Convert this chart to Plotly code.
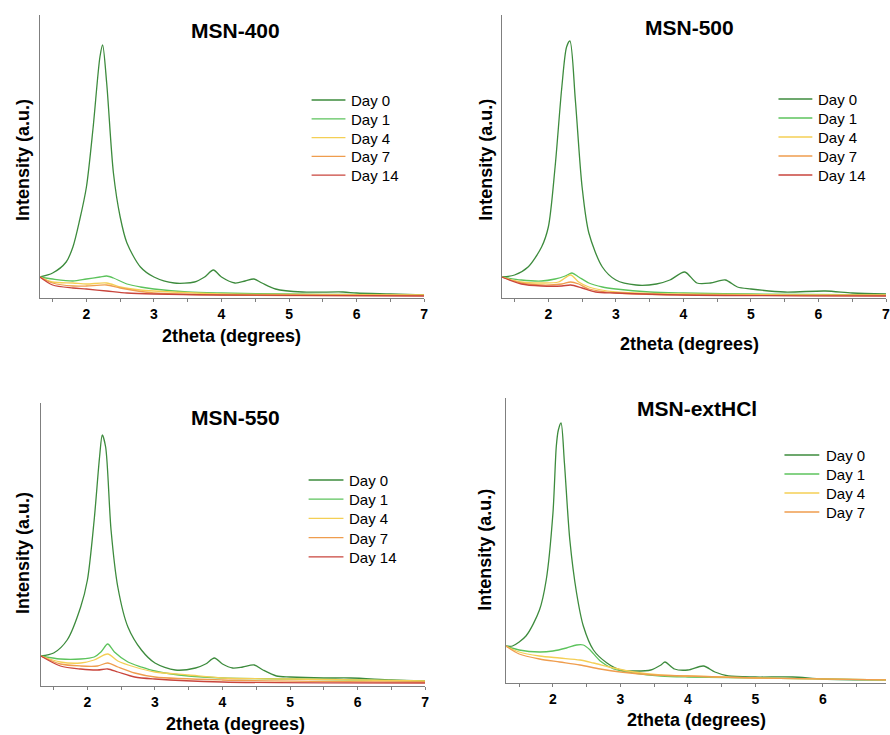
import plotly.graph_objects as go

W, H = 890, 735

# ---- MSN-400 ----
x400_d0 = [1.31, 1.5, 1.7, 1.8, 1.9, 2.0, 2.1, 2.2, 2.24, 2.3, 2.4, 2.5, 2.6, 2.8, 3.0, 3.3, 3.6, 3.75, 3.88, 4.0, 4.2, 4.35, 4.48, 4.6, 4.8, 5.2, 5.8, 6.0, 6.5, 7.0]
y400_d0 = [21, 25, 36, 51, 78, 111, 171, 241, 253, 215, 125, 81, 55, 31, 21, 15, 16, 21, 28, 21, 15, 17, 19, 15, 9, 6, 6, 5, 4, 3]
x400_d1 = [1.31, 1.5, 1.8, 2.0, 2.2, 2.3, 2.4, 2.6, 2.8, 3.0, 3.5, 4.0, 5.0, 6.0, 7.0]
y400_d1 = [21, 19, 17, 19, 21, 22, 20, 14, 11, 9, 6, 5, 4, 3.5, 3]
x400_d4 = [1.31, 1.5, 1.8, 2.0, 2.3, 2.5, 2.8, 3.0, 4.0, 5.0, 7.0]
y400_d4 = [21, 16, 15, 14, 15, 11, 8, 7, 4, 3.5, 3]
x400_d7 = [1.31, 1.5, 1.8, 2.0, 2.3, 2.5, 3.0, 4.0, 7.0]
y400_d7 = [21, 15, 12, 12, 13, 10, 5, 3, 2.5]
x400_d14 = [1.31, 1.5, 1.8, 2.0, 2.3, 2.6, 3.0, 4.0, 7.0]
y400_d14 = [21, 13, 10, 9, 7, 5, 4, 3, 2]

# ---- MSN-500 ----
x500_d0 = [1.31, 1.5, 1.7, 1.9, 2.0, 2.1, 2.2, 2.27, 2.32, 2.4, 2.5, 2.6, 2.8, 3.0, 3.3, 3.6, 3.8, 4.02, 4.2, 4.4, 4.62, 4.8, 5.0, 5.5, 6.1, 6.5, 7.0]
y500_d0 = [21, 23, 31, 51, 71, 131, 211, 251, 257, 198, 111, 65, 31, 18, 13, 14, 18, 26, 15, 15, 18, 11, 9, 6, 7, 5, 4]
x500_d1 = [1.31, 1.6, 1.9, 2.1, 2.25, 2.35, 2.45, 2.6, 2.8, 3.0, 3.5, 4.0, 5.0, 7.0]
y500_d1 = [21, 18, 17, 19, 22, 25, 21, 15, 11, 9, 6, 5, 4, 3]
x500_d4 = [1.31, 1.6, 1.9, 2.15, 2.33, 2.45, 2.6, 3.0, 4.0, 7.0]
y500_d4 = [21, 16, 15, 16, 23, 16, 11, 6, 4, 3]
x500_d7 = [1.31, 1.6, 1.9, 2.2, 2.33, 2.45, 2.6, 3.0, 4.0, 7.0]
y500_d7 = [21, 15, 13, 14, 16, 14, 9, 5, 3, 2.5]
x500_d14 = [1.31, 1.6, 1.9, 2.2, 2.33, 2.5, 2.7, 3.0, 4.0, 7.0]
y500_d14 = [21, 14, 12, 12, 13, 10, 6, 5, 3, 2]

# ---- MSN-550 ----
x550_d0 = [1.31, 1.5, 1.7, 1.9, 2.0, 2.1, 2.18, 2.22, 2.27, 2.35, 2.45, 2.6, 2.8, 3.0, 3.3, 3.6, 3.75, 3.88, 4.0, 4.15, 4.3, 4.47, 4.6, 4.8, 5.0, 5.5, 5.9, 6.5, 7.0]
y550_d0 = [30, 33, 46, 79, 106, 166, 229, 251, 239, 156, 99, 59, 36, 23, 16, 18, 22, 28, 22, 18, 19, 21, 16, 10, 9, 8, 8, 6, 5]
x550_d1 = [1.31, 1.6, 1.9, 2.1, 2.2, 2.3, 2.4, 2.6, 2.8, 3.0, 3.5, 4.0, 5.0, 6.0, 7.0]
y550_d1 = [30, 27, 27, 29, 34, 42, 34, 24, 19, 15, 10, 8, 7, 6, 5]
x550_d4 = [1.31, 1.6, 1.9, 2.1, 2.3, 2.45, 2.7, 3.0, 3.5, 4.0, 5.0, 7.0]
y550_d4 = [30, 24, 23, 26, 32, 25, 19, 14, 11, 8, 7, 5]
x550_d7 = [1.31, 1.6, 1.9, 2.15, 2.3, 2.45, 2.7, 3.0, 4.0, 7.0]
y550_d7 = [30, 22, 20, 20, 23, 19, 13, 9, 6, 4]
x550_d14 = [1.31, 1.6, 1.9, 2.15, 2.3, 2.45, 2.7, 3.0, 4.0, 7.0]
y550_d14 = [30, 20, 17, 16, 17, 14, 9, 7, 4, 3]

# ---- MSN-extHCl ----
xext_d0 = [1.3, 1.4, 1.6, 1.8, 1.9, 2.0, 2.05, 2.08, 2.12, 2.17, 2.25, 2.35, 2.45, 2.6, 2.8, 3.0, 3.2, 3.45, 3.6, 3.66, 3.8, 4.0, 4.23, 4.4, 4.6, 5.0, 5.55, 6.0, 7.0]
yext_d0 = [37, 37, 47, 73, 103, 170, 237, 253, 260, 220, 143, 90, 57, 33, 20, 13, 12, 13, 18, 21, 14, 13, 17, 11, 7, 6, 6, 4, 3]
xext_d1 = [1.3, 1.5, 1.8, 2.0, 2.2, 2.35, 2.45, 2.55, 2.7, 2.9, 3.2, 3.6, 4.0, 5.0, 7.0]
yext_d1 = [37, 33, 31, 32, 35, 38, 38, 33, 22, 14, 10, 7, 6, 5, 3]
xext_d4 = [1.3, 1.5, 1.8, 2.1, 2.4, 2.6, 2.9, 3.2, 3.6, 4.0, 5.0, 7.0]
yext_d4 = [37, 31, 27, 25, 23, 20, 15, 11, 8, 7, 5, 3]
xext_d7 = [1.3, 1.5, 1.8, 2.1, 2.4, 2.7, 3.0, 3.5, 4.0, 5.0, 7.0]
yext_d7 = [37, 29, 24, 21, 18, 14, 11, 8, 7, 5, 3]

day_names = ["Day 0", "Day 1", "Day 4", "Day 7", "Day 14"]
day_colors = ["#3d8b3d", "#5cc35c", "#f4cf55", "#ef9d4e", "#c9453c"]
panel_titles = ["MSN-400", "MSN-500", "MSN-550", "MSN-extHCl"]
x_tick_labels = ["2", "3", "4", "5", "6", "7"]

panels = [
    [(x400_d0, y400_d0), (x400_d1, y400_d1), (x400_d4, y400_d4), (x400_d7, y400_d7), (x400_d14, y400_d14)],
    [(x500_d0, y500_d0), (x500_d1, y500_d1), (x500_d4, y500_d4), (x500_d7, y500_d7), (x500_d14, y500_d14)],
    [(x550_d0, y550_d0), (x550_d1, y550_d1), (x550_d4, y550_d4), (x550_d7, y550_d7), (x550_d14, y550_d14)],
    [(xext_d0, yext_d0), (xext_d1, yext_d1), (xext_d4, yext_d4), (xext_d7, yext_d7)],
]

# plot boxes in pixels: (left, right, top, bottom), x range, y range
boxes = [
    (40, 426, 15, 298, [1.31, 7.0], [0, 283]),
    (504, 890, 15, 298, [1.31, 7.0], [0, 283]),
    (41, 427, 403, 686, [1.31, 7.0], [0, 283]),
    (508, 890, 398, 683, [1.30, 6.935], [0, 285]),
]
# legend key: line start, line end, text start, first row y, row step
legend_geom = [(313, 347, 351, 100, 18.8), (782, 816, 820, 99, 19.0),
               (310, 345, 349, 480, 19.2), (788, 823, 828, 455, 19.0)]
title_pos = [(237, 30), (693, 28), (237, 417), (700, 408)]
ytitle_pos = [(23, 160), (488, 160), (23, 553), (487, 550)]
xtitle_pos = [(233, 336), (693, 344), (237, 724), (700, 720)]

FONT = "Arial, 'Liberation Sans', sans-serif"
AXIS_GRAY = "#7f7f7f"


def px_x(p):
    return p / W


def px_y(p):
    return 1 - p / H


fig = go.Figure()
layout = dict(
    width=W, height=H,
    margin=dict(l=0, r=0, t=0, b=0),
    paper_bgcolor="white", plot_bgcolor="white",
    font=dict(family=FONT, color="black"),
    showlegend=False,
)
annotations = []
shapes = []

for i, series in enumerate(panels):
    k = "" if i == 0 else str(i + 1)
    left, right, top, bottom, xr, yr = boxes[i]
    for j, (xs, ys) in enumerate(series):
        fig.add_trace(go.Scatter(
            x=xs, y=ys, mode="lines", name=day_names[j],
            line=dict(color=day_colors[j], width=1.3, shape="spline", smoothing=0.8),
            xaxis=f"x{k}", yaxis=f"y{k}",
        ))
    layout[f"xaxis{k}"] = dict(
        domain=[px_x(left), px_x(right)], range=xr, anchor=f"y{k}",
        showline=True, linecolor=AXIS_GRAY, linewidth=1.2,
        showgrid=False, zeroline=False,
        tickvals=[2, 3, 4, 5, 6, 7], ticktext=x_tick_labels,
        ticks="outside", ticklen=3, tickcolor=AXIS_GRAY, tickwidth=1,
        ticklabeloverflow="allow",
        minor=dict(dtick=0.5, tick0=1.5, ticks="outside", ticklen=3, tickcolor=AXIS_GRAY, showgrid=False),
        tickfont=dict(size=14, family=FONT, color="black", weight="bold"),
        fixedrange=True,
    )
    layout[f"yaxis{k}"] = dict(
        domain=[px_y(bottom), px_y(top)], range=yr, anchor=f"x{k}",
        showline=True, linecolor=AXIS_GRAY, linewidth=1.2,
        showgrid=False, zeroline=False, showticklabels=False, ticks="",
        fixedrange=True,
    )

    # legend key for this panel
    l0, l1, tx0, ry0, step = legend_geom[i]
    for j in range(len(series)):
        ry = ry0 + j * step
        shapes.append(dict(
            type="line", xref="paper", yref="paper",
            x0=px_x(l0), x1=px_x(l1), y0=px_y(ry), y1=px_y(ry),
            line=dict(color=day_colors[j], width=1.3),
        ))
        annotations.append(dict(
            text=day_names[j], x=px_x(tx0), y=px_y(ry + 0.5), xref="paper", yref="paper",
            showarrow=False, xanchor="left", yanchor="middle",
            font=dict(size=15, family=FONT, color="black"),
        ))

    tx, ty = title_pos[i]
    annotations.append(dict(
        text=f"<b>{panel_titles[i]}</b>", x=px_x(tx), y=px_y(ty), xref="paper", yref="paper",
        showarrow=False, xanchor="center", yanchor="middle",
        font=dict(size=21, family=FONT, color="black"),
    ))
    yx, yy = ytitle_pos[i]
    annotations.append(dict(
        text="<b>Intensity (a.u.)</b>", x=px_x(yx), y=px_y(yy), xref="paper", yref="paper",
        showarrow=False, xanchor="center", yanchor="middle", textangle=-90,
        font=dict(size=18, family=FONT, color="black"),
    ))
    xx, xy = xtitle_pos[i]
    annotations.append(dict(
        text="<b>2theta (degrees)</b>", x=px_x(xx), y=px_y(xy), xref="paper", yref="paper",
        showarrow=False, xanchor="center", yanchor="middle",
        font=dict(size=18, family=FONT, color="black"),
    ))

layout["annotations"] = annotations
layout["shapes"] = shapes
fig.update_layout(**layout)
fig.write_html("out.html")
